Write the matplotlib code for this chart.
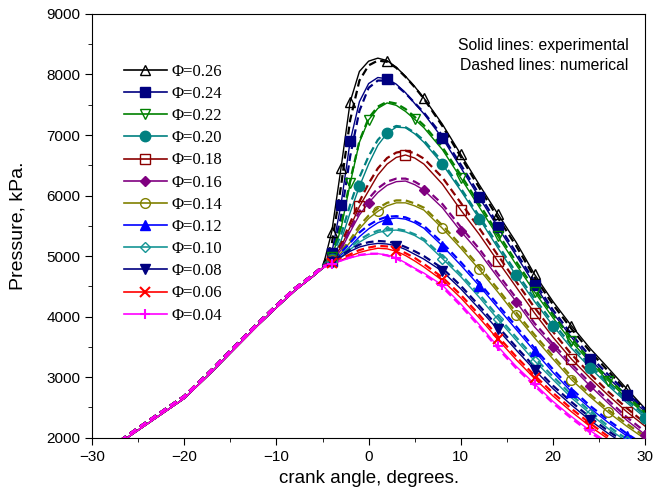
import matplotlib.pyplot as plt
from matplotlib.lines import Line2D
from matplotlib.ticker import MultipleLocator

# crank angle grid (deg)
crank_comp = [-27, -25, -22, -20, -17, -15, -12, -10, -8, -6, -5]
crank_comb = [-4, -3, -2, -1, 0, 1, 2, 3, 4, 5, 6, 8, 10, 12, 14, 16, 18, 20, 22, 24, 26, 28, 30]

# compression part, shared by all mixtures (kPa)
p_comp_exp = [1915, 2125, 2440, 2650, 3090, 3400, 3860, 4150, 4430, 4670, 4800]
p_comp_num = [1950, 2165, 2480, 2690, 3130, 3440, 3900, 4190, 4470, 4700, 4830]

phi = ["0.26", "0.24", "0.22", "0.20", "0.18", "0.16", "0.14", "0.12", "0.10", "0.08", "0.06", "0.04"]

# experimental (solid)
exp_026 = [5400, 6450, 7550, 8050, 8220, 8270, 8230, 8120, 7970, 7800, 7610, 7180, 6680, 6180, 5700, 5230, 4700, 4250, 3850, 3480, 3150, 2810, 2480]
exp_024 = [5050, 5850, 6900, 7550, 7850, 7950, 7930, 7840, 7700, 7520, 7350, 6950, 6460, 5970, 5480, 5010, 4530, 4060, 3660, 3300, 2990, 2700, 2430]
exp_022 = [4980, 5450, 6200, 6880, 7250, 7440, 7530, 7490, 7390, 7260, 7120, 6760, 6290, 5810, 5330, 4860, 4410, 3980, 3590, 3250, 2940, 2650, 2390]
exp_020 = [4950, 5250, 5720, 6150, 6520, 6830, 7030, 7130, 7120, 7020, 6880, 6520, 6080, 5620, 5140, 4680, 4250, 3850, 3480, 3160, 2860, 2580, 2330]
exp_018 = [4920, 5150, 5480, 5820, 6080, 6340, 6520, 6630, 6670, 6620, 6520, 6190, 5760, 5360, 4920, 4490, 4060, 3660, 3300, 2990, 2700, 2430, 2190]
exp_016 = [4910, 5100, 5400, 5680, 5880, 6050, 6170, 6230, 6240, 6180, 6090, 5800, 5410, 5060, 4650, 4250, 3830, 3500, 3170, 2860, 2570, 2290, 2050]
exp_014 = [4930, 5050, 5230, 5450, 5620, 5740, 5830, 5880, 5880, 5830, 5760, 5460, 5130, 4780, 4410, 4020, 3650, 3300, 2960, 2680, 2420, 2190, 1980]
exp_012 = [4920, 5020, 5160, 5320, 5450, 5550, 5610, 5630, 5610, 5550, 5460, 5170, 4850, 4510, 4150, 3790, 3430, 3080, 2760, 2490, 2250, 2030, 1830]
exp_010 = [4910, 4990, 5110, 5230, 5320, 5390, 5420, 5430, 5400, 5340, 5250, 4960, 4660, 4320, 3960, 3610, 3270, 2960, 2660, 2400, 2150, 1940, 1750]
exp_008 = [4900, 4980, 5080, 5150, 5190, 5210, 5200, 5170, 5110, 5030, 4950, 4750, 4460, 4130, 3790, 3450, 3120, 2810, 2540, 2290, 2070, 1870, 1690]
exp_006 = [4880, 4930, 5000, 5060, 5100, 5130, 5120, 5080, 5010, 4920, 4820, 4600, 4310, 3980, 3630, 3290, 2980, 2690, 2430, 2190, 1980, 1790, 1620]
exp_004 = [4870, 4920, 4970, 5010, 5030, 5040, 5020, 4970, 4890, 4800, 4720, 4520, 4210, 3870, 3510, 3180, 2890, 2600, 2350, 2120, 1920, 1740, 1580]

# numerical (dashed)
num_026 = [5200, 6150, 7250, 7900, 8150, 8230, 8210, 8110, 7960, 7790, 7600, 7150, 6640, 6130, 5640, 5170, 4650, 4200, 3800, 3430, 3100, 2770, 2450]
num_024 = [5000, 5650, 6650, 7400, 7780, 7900, 7900, 7820, 7690, 7530, 7370, 6990, 6510, 6020, 5530, 5060, 4580, 4110, 3710, 3350, 3040, 2740, 2470]
num_022 = [5000, 5500, 6250, 6900, 7280, 7470, 7550, 7520, 7430, 7300, 7160, 6800, 6340, 5860, 5380, 4910, 4460, 4030, 3640, 3290, 2980, 2690, 2420]
num_020 = [5000, 5350, 5850, 6300, 6650, 6920, 7080, 7150, 7130, 7040, 6910, 6560, 6120, 5660, 5190, 4730, 4300, 3900, 3530, 3200, 2900, 2620, 2370]
num_018 = [4950, 5200, 5550, 5900, 6200, 6450, 6620, 6710, 6740, 6700, 6610, 6300, 5880, 5460, 5020, 4580, 4150, 3750, 3380, 3060, 2760, 2490, 2240]
num_016 = [4930, 5130, 5440, 5740, 5950, 6120, 6230, 6280, 6280, 6230, 6140, 5860, 5480, 5120, 4710, 4310, 3890, 3550, 3220, 2910, 2620, 2340, 2100]
num_014 = [4950, 5080, 5270, 5500, 5670, 5790, 5880, 5920, 5920, 5870, 5800, 5510, 5180, 4830, 4460, 4070, 3700, 3350, 3010, 2720, 2460, 2230, 2020]
num_012 = [4940, 5060, 5220, 5390, 5510, 5600, 5650, 5660, 5640, 5580, 5500, 5220, 4900, 4560, 4200, 3840, 3480, 3130, 2810, 2530, 2290, 2070, 1870]
num_010 = [4930, 5020, 5150, 5270, 5360, 5420, 5450, 5450, 5420, 5360, 5280, 5000, 4700, 4370, 4010, 3660, 3320, 3010, 2710, 2440, 2190, 1980, 1790]
num_008 = [4920, 5010, 5110, 5190, 5230, 5250, 5240, 5210, 5150, 5080, 5000, 4800, 4510, 4180, 3840, 3500, 3170, 2860, 2590, 2340, 2110, 1910, 1730]
num_006 = [4900, 4960, 5030, 5100, 5140, 5170, 5160, 5120, 5050, 4970, 4870, 4650, 4360, 4030, 3680, 3340, 3030, 2740, 2480, 2240, 2020, 1830, 1660]
num_004 = [4880, 4930, 4980, 5020, 5040, 5040, 5010, 4960, 4880, 4790, 4700, 4490, 4180, 3840, 3480, 3150, 2860, 2570, 2320, 2090, 1890, 1710, 1550]

exp_all = [exp_026, exp_024, exp_022, exp_020, exp_018, exp_016, exp_014, exp_012, exp_010, exp_008, exp_006, exp_004]
num_all = [num_026, num_024, num_022, num_020, num_018, num_016, num_014, num_012, num_010, num_008, num_006, num_004]

colors = ["#000000", "#000080", "#008000", "#008080", "#8b0000", "#800080",
          "#808000", "#0000ff", "#159595", "#000080", "#ff0000", "#ff00ff"]
markers = ["^", "s", "v", "o", "s", "D", "o", "^", "D", "v", "x", "+"]
sizes = [7, 7.5, 7, 7.5, 7, 5.5, 7, 7, 5.5, 7, 7, 7]
filled = [False, True, False, True, False, True, False, True, False, True, True, True]

plt.rcParams['font.family'] = ['Liberation Sans', 'DejaVu Sans']

fig, ax = plt.subplots(figsize=(6.53, 4.98), dpi=100)
fig.subplots_adjust(left=0.141, right=0.988, bottom=0.121, top=0.972)

handles = []
for i in range(len(phi)):
    col = colors[i]
    mfc = col if filled[i] else "none"
    mew = 1.0 if markers[i] not in ("x", "+") else 1.5
    ax.plot(crank_comp + crank_comb, p_comp_exp + exp_all[i], color=col, lw=1.0, zorder=2)
    ax.plot(crank_comp + crank_comb, p_comp_num + num_all[i], color=col, lw=1.6,
            ls=(0, (3.5, 2)), zorder=2)
    ax.plot(crank_comb, exp_all[i], ls="none", marker=markers[i], ms=sizes[i],
            mfc=mfc, mec=col, mew=mew, markevery=0.095, zorder=3)
    handles.append(Line2D([], [], color=col, lw=1.2, marker=markers[i], ms=sizes[i],
                          mfc=mfc, mec=col, mew=mew, label="\u03a6=" + phi[i]))

ax.set_xlim(-30, 30)
ax.set_ylim(2000, 9000)
ax.xaxis.set_major_locator(MultipleLocator(10))
ax.xaxis.set_minor_locator(MultipleLocator(5))
ax.yaxis.set_major_locator(MultipleLocator(1000))
ax.yaxis.set_minor_locator(MultipleLocator(500))
ax.tick_params(which="major", direction="out", length=5, labelsize=11)
ax.tick_params(which="minor", direction="out", length=3)

ax.set_xlabel("crank angle, degrees.", fontsize=13.5, labelpad=5)
ax.set_ylabel("Pressure, kPa.", fontsize=14, labelpad=14)

leg = ax.legend(handles=handles, loc="upper left", bbox_to_anchor=(0.03, 0.918),
                frameon=False, handlelength=2.6, handletextpad=0.25, labelspacing=0.37,
                prop={"family": ["Liberation Serif", "DejaVu Serif"], "size": 12})

ax.text(0.97, 0.943, "Solid lines: experimental\nDashed lines: numerical",
        transform=ax.transAxes, ha="right", va="top", fontsize=11.3, linespacing=1.4)

fig.savefig("out.png", dpi=100)
